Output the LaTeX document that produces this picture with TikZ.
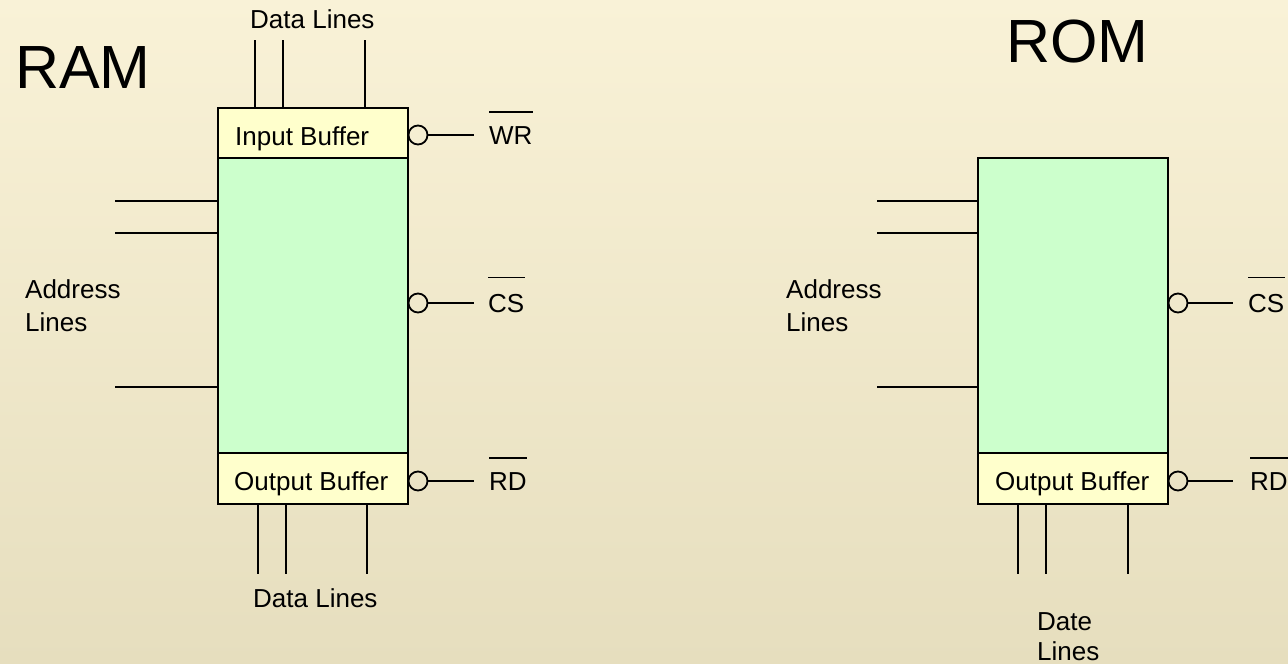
\documentclass[tikz,border=0pt]{standalone}
\usepackage{fontspec}
\setmainfont{Liberation Sans}
\definecolor{bgtop}{RGB}{249,242,215}
\definecolor{bgbot}{RGB}{230,222,190}
\definecolor{memgreen}{RGB}{204,255,204}
\definecolor{bufyellow}{RGB}{255,255,204}
\tikzset{
  membox/.style={draw, line width=1.8pt, fill=memgreen, inner sep=0pt, minimum width=190pt},
  bufbox/.style={draw, line width=1.8pt, fill=bufyellow, inner sep=0pt, minimum width=190pt, minimum height=50pt},
  wire/.style={line width=1.8pt},
  barline/.style={line width=1.5pt},
  bub/.style={circle, draw, line width=1.8pt, inner sep=0pt, minimum size=19pt},
  lbl/.style={inner sep=0pt, anchor=base west, font=\fontsize{26}{31}\selectfont},
  ttl/.style={inner sep=0pt, anchor=base west, font=\fontsize{61}{70}\selectfont},
}
\begin{document}
\begin{tikzpicture}[x=1pt,y=-1pt]
\shade[top color=bgtop, bottom color=bgbot] (0,0) rectangle (1288,664);
\useasboundingbox (0,0) rectangle (1288,664);

% ---------------- RAM ----------------
\node[ttl] (ramt) at (15,88) {RAM};
\node[membox, minimum height=295pt] (ram) at (313,305.5) {};
\node[bufbox] (rib) at (313,133) {};
\node[bufbox, minimum height=51pt] (rob) at (313,478.5) {};
\node[lbl] (ribl) at (235,145) {Input Buffer};
\node[lbl] (robl) at (234,490) {Output Buffer};

% data lines top
\coordinate (t1) at (255,40);
\coordinate (t2) at (283,40);
\coordinate (t3) at (365,40);
\draw[wire] (t1) -- (t1 |- rib.north);
\draw[wire] (t2) -- (t2 |- rib.north);
\draw[wire] (t3) -- (t3 |- rib.north);
\node[lbl] (tdl) at (250,28) {Data Lines};

% data lines bottom
\coordinate (b1) at (258,574);
\coordinate (b2) at (286,574);
\coordinate (b3) at (367,574);
\draw[wire] (b1 |- rob.south) -- (b1);
\draw[wire] (b2 |- rob.south) -- (b2);
\draw[wire] (b3 |- rob.south) -- (b3);
\node[lbl] (bdl) at (253,607) {Data Lines};

% address lines
\coordinate (a1) at (115,201);
\coordinate (a2) at (115,233);
\coordinate (a3) at (115,387);
\draw[wire] (a1) -- (a1 -| ram.west);
\draw[wire] (a2) -- (a2 -| ram.west);
\draw[wire] (a3) -- (a3 -| ram.west);
\node[lbl] (adl1) at (25,298) {Address};
\node[lbl] (adl2) at (25,331) {Lines};

% control signals
\node[bub] (wrb) at (418,135) {};
\coordinate (wre) at (474,135);
\draw[wire] (wrb.east) -- (wre);
\node[lbl] (wr) at (489,144) {WR};
\draw[barline] ([yshift=14pt]wr.north west) -- ([yshift=14pt]wr.north east);

\node[bub] (csb) at (418,303) {};
\coordinate (cse) at (474,303);
\draw[wire] (csb.east) -- (cse);
\node[lbl] (cs) at (488,312) {CS};
\draw[barline] ([yshift=16pt]cs.north west) -- ([yshift=16pt]cs.north east);

\node[bub] (rdb) at (418,481) {};
\coordinate (rde) at (474,481);
\draw[wire] (rdb.east) -- (rde);
\node[lbl] (rd) at (489,490) {RD};
\draw[barline] ([yshift=14pt]rd.north west) -- ([yshift=14pt]rd.north east);

% ---------------- ROM ----------------
\node[ttl] (romt) at (1006,62) {ROM};
\node[membox, minimum height=295pt] (rom) at (1073,305.5) {};
\node[bufbox, minimum height=51pt] (rob2) at (1073,478.5) {};
\node[lbl] (rob2l) at (995,490) {Output Buffer};

\coordinate (c1) at (1018,574);
\coordinate (c2) at (1046,574);
\coordinate (c3) at (1128,574);
\draw[wire] (c1 |- rob2.south) -- (c1);
\draw[wire] (c2 |- rob2.south) -- (c2);
\draw[wire] (c3 |- rob2.south) -- (c3);
\node[lbl] (dl1) at (1037,630) {Date};
\node[lbl] (dl2) at (1037,660) {Lines};

\coordinate (r1) at (877,201);
\coordinate (r2) at (877,233);
\coordinate (r3) at (877,387);
\draw[wire] (r1) -- (r1 -| rom.west);
\draw[wire] (r2) -- (r2 -| rom.west);
\draw[wire] (r3) -- (r3 -| rom.west);
\node[lbl] (radl1) at (786,298) {Address};
\node[lbl] (radl2) at (786,331) {Lines};

\node[bub] (csb2) at (1178,303) {};
\coordinate (cse2) at (1233,303);
\draw[wire] (csb2.east) -- (cse2);
\node[lbl] (cs2) at (1248,312) {CS};
\draw[barline] ([yshift=16pt]cs2.north west) -- ([yshift=16pt]cs2.north east);

\node[bub] (rdb2) at (1178,481) {};
\coordinate (rde2) at (1233,481);
\draw[wire] (rdb2.east) -- (rde2);
\node[lbl] (rd2) at (1250,490) {RD};
\draw[barline] ([yshift=14pt]rd2.north west) -- ([yshift=14pt]rd2.north east);
\end{tikzpicture}
\end{document}
